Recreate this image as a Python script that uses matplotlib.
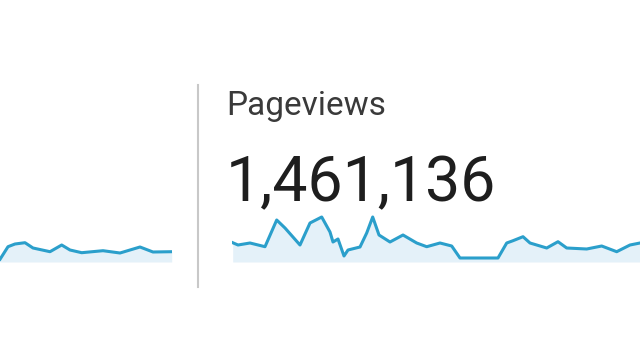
import matplotlib.pyplot as plt
from matplotlib.lines import Line2D

# sparkline data (day position, relative height)
left_days = [0, 8, 15, 25, 33, 50, 61.7, 70, 81.7, 103, 120, 140, 153, 171.7]
left_vals = [2.7, 15.3, 18, 19.3, 14, 10.3, 17, 12, 9.3, 11.3, 9, 15, 10, 10.3]

right_days = [0.7, 6, 18, 33, 44.7, 53, 68, 78, 89.7, 98, 101, 106, 112, 116,
              128, 134.7, 140.7, 147, 158, 171, 184.7, 194.7, 208, 219.7, 228,
              266, 274.7, 281, 291, 298, 314.7, 326, 334.7, 354.7, 369.7,
              384.7, 398, 408]
right_vals = [19.3, 17, 19, 15.3, 42, 34, 17, 39, 45, 30, 20, 23, 6, 12,
              15, 29, 45, 27, 20, 27, 19, 15.3, 19, 16, 4,
              4, 19, 21.3, 25.3, 19, 14, 20.3, 14, 13, 16,
              10.3, 17, 19]

metric_label = "Pageviews"
metric_value = "1,461,136"

LINE = "#2b9fcb"
FILL = "#e4f1f9"

plt.rcParams["font.family"] = ["Roboto", "DejaVu Sans"]

W, H = 640, 360
fig = plt.figure(figsize=(6.4, 3.6), dpi=100)
fig.patch.set_facecolor("white")


def spark_axes(x0, x1, y_top, y_bot):
    ax = fig.add_axes([x0 / W, (H - y_bot) / H, (x1 - x0) / W, (y_bot - y_top) / H])
    ax.set_axis_off()
    ax.set_ylim(0, y_bot - y_top)
    return ax


ax_l = spark_axes(0, 172, 200, 262)
ax_l.fill_between(left_days, left_vals, 0, color=FILL, lw=0)
ax_l.plot(left_days, left_vals, color=LINE, lw=2.2, solid_joinstyle="round")
ax_l.set_xlim(0, 172)

ax_r = spark_axes(232, 640, 200, 262)
ax_r.fill_between(right_days, right_vals, 0, color=FILL, lw=0)
ax_r.plot(right_days, right_vals, color=LINE, lw=2.2, solid_joinstyle="round")
ax_r.set_xlim(0, 408)

# divider
fig.add_artist(Line2D([198 / W, 198 / W], [(H - 287) / H, (H - 85) / H],
                      color="#c8c8c8", lw=1.5))

fig.text(226 / W, (H - 115) / H, metric_label, fontsize=24, color="#3a3a3a",
         ha="left", va="baseline")
fig.text(226 / W, (H - 201) / H, metric_value, fontsize=45, color="#1e1e1e",
         ha="left", va="baseline")

fig.savefig("out.png", dpi=100)
